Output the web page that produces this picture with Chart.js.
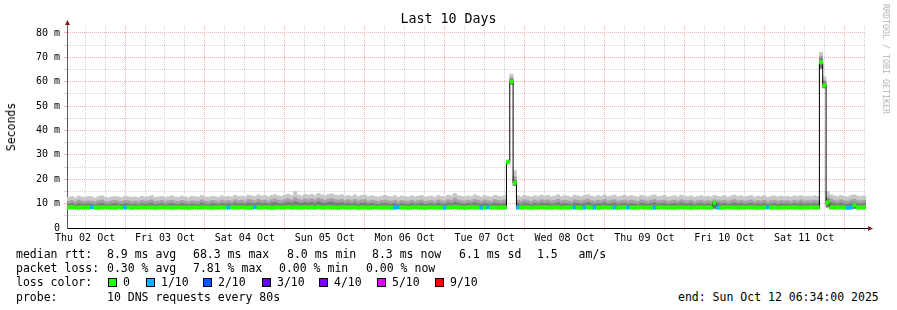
<!DOCTYPE html>
<html>
<head>
<meta charset="utf-8">
<title>Last 10 Days</title>
<script src="https://cdn.jsdelivr.net/npm/chart.js@4.4.1/dist/chart.umd.min.js"></script>
<style>
  html, body { margin: 0; padding: 0; background: #fff; }
  #wrap { position: relative; width: 897px; height: 310px; overflow: hidden;
          font-family: 'DejaVu Sans Mono', monospace; color: #000; }
  #chart { position: absolute; left: 0; top: 0; }
  #title { position: absolute; left: 0; top: 11px; width: 897px; text-align: center;
           font-size: 13.3px; line-height: 16px; }
  #ylabel { position: absolute; left: 11px; top: 127px; font-size: 11.5px; white-space: pre;
            transform: translate(-50%, -50%) rotate(-90deg); }
  #credit { position: absolute; left: 886px; top: 59px; font-size: 8.3px; color: #b4b4b4;
            white-space: pre; transform: translate(-50%, -50%) rotate(90deg); }
  .t { position: absolute; white-space: pre; font-size: 11.5px; line-height: 14px; }
  .box { position: absolute; width: 7px; height: 7px; border: 1px solid #000; }
</style>
</head>
<body>
<div id="wrap">
  <canvas id="chart" width="897" height="250"></canvas>
  <div id="title">Last 10 Days</div>
  <div id="ylabel">Seconds</div>
  <div id="credit">RRDTOOL / TOBI OETIKER</div>
  <div id="legend"></div>
</div>
<script>
// time axis: hours counted from Thu 02 Oct 00:00, window ends Sun 12 Oct 06:34
const T0 = 6 + 34 / 60;
const T1 = T0 + 240;

const dayLabels = ['Thu 02 Oct', 'Fri 03 Oct', 'Sat 04 Oct', 'Sun 05 Oct', 'Mon 06 Oct',
                   'Tue 07 Oct', 'Wed 08 Oct', 'Thu 09 Oct', 'Fri 10 Oct', 'Sat 11 Oct'];
const xTickHours = [12, 18, 24, 30, 36, 42, 48, 54, 60, 66, 72, 78, 84, 90, 96, 102, 108, 114,
                    120, 126, 132, 138, 144, 150, 156, 162, 168, 174, 180, 186, 192, 198, 204,
                    210, 216, 222, 228, 234, 240, 246];
const yTickValues = [0, 5, 10, 15, 20, 25, 30, 35, 40, 45, 50, 55, 60, 65, 70, 75, 80];

// hourly values in ms, one row per 24 bins
const median = [
  8.4,8.5,8.4,8.3,8.5,8.4,8.4,8.6,8.4,8.3,8.4,8.5,8.4,8.4,8.3,8.5,8.4,8.4,8.5,8.3,8.4,8.4,8.5,8.4,
  8.5,8.4,8.3,8.4,8.5,8.4,8.4,8.3,8.4,8.5,8.4,8.4,8.3,8.4,8.5,8.4,8.4,8.5,8.4,8.3,8.4,8.4,8.5,8.4,
  8.4,8.5,8.4,8.4,8.5,8.4,8.3,8.4,8.5,8.4,8.4,8.5,8.4,8.3,8.4,8.5,8.4,8.4,8.6,8.4,8.5,8.4,8.4,8.5,
  8.4,8.5,8.4,8.6,8.4,8.4,8.5,8.4,8.4,8.3,8.5,8.4,8.4,8.4,8.5,8.3,8.4,8.4,8.3,8.4,8.5,8.4,8.4,8.4,
  8.4,8.3,8.4,8.5,8.4,8.4,8.3,8.4,8.5,8.4,8.4,8.3,8.4,8.5,8.4,8.4,8.4,8.3,8.4,8.5,8.6,8.4,8.4,8.3,
  8.4,8.5,8.4,8.4,8.3,8.4,8.5,8.4,8.4,8.3,8.4,8.4,27.0,60.0,18.5,8.4,8.4,8.5,8.4,8.3,8.4,8.4,8.5,8.4,
  8.4,8.4,8.5,8.4,8.3,8.4,8.4,8.5,8.4,8.4,8.3,8.4,8.5,8.4,8.4,8.3,8.4,8.5,8.4,8.4,8.4,8.3,8.4,8.5,
  8.4,8.4,8.3,8.4,8.5,8.4,8.4,8.4,8.3,8.4,8.5,8.4,8.4,8.4,8.3,8.4,8.5,8.4,8.4,8.3,8.4,8.4,8.5,8.4,
  8.4,8.4,10.3,8.4,8.3,8.4,8.5,8.4,8.4,8.3,8.4,8.4,8.5,8.4,8.4,8.3,8.4,8.4,8.5,8.4,8.4,8.3,8.4,8.4,
  8.4,8.5,8.4,8.4,8.3,8.4,8.4,8.5,8.4,8.4,68.0,58.5,10.5,8.4,8.4,8.5,8.4,8.4,8.3,8.4,9.4,8.4,8.4,8.4
];
const smokeLo = [
  8.0,8.0,8.0,8.0,8.0,8.0,8.0,8.0,8.0,8.0,8.0,8.0,8.0,8.0,8.0,8.0,8.0,8.0,8.0,8.0,8.0,8.0,8.0,8.0,
  8.0,8.0,8.0,8.0,8.0,8.0,8.0,8.0,8.0,8.0,8.0,8.0,8.0,8.0,8.0,8.0,8.0,8.0,8.0,8.0,8.0,8.0,8.0,8.0,
  8.0,8.0,8.0,8.0,8.0,8.0,8.0,8.0,8.0,8.0,8.0,8.0,8.0,8.0,8.0,8.0,8.0,8.0,8.0,8.0,8.0,8.0,8.0,8.0,
  8.0,8.0,8.0,8.0,8.0,8.0,8.0,8.0,8.0,8.0,8.0,8.0,8.0,8.0,8.0,8.0,8.0,8.0,8.0,8.0,8.0,8.0,8.0,8.0,
  8.0,8.0,8.0,8.0,8.0,8.0,8.0,8.0,8.0,8.0,8.0,8.0,8.0,8.0,8.0,8.0,8.0,8.0,8.0,8.0,8.0,8.0,8.0,8.0,
  8.0,8.0,8.0,8.0,8.0,8.0,8.0,8.0,8.0,8.0,8.0,8.0,26.5,59.0,17.5,8.0,8.0,8.0,8.0,8.0,8.0,8.0,8.0,8.0,
  8.0,8.0,8.0,8.0,8.0,8.0,8.0,8.0,8.0,8.0,8.0,8.0,8.0,8.0,8.0,8.0,8.0,8.0,8.0,8.0,8.0,8.0,8.0,8.0,
  8.0,8.0,8.0,8.0,8.0,8.0,8.0,8.0,8.0,8.0,8.0,8.0,8.0,8.0,8.0,8.0,8.0,8.0,8.0,8.0,8.0,8.0,8.0,8.0,
  8.0,8.0,8.0,8.0,8.0,8.0,8.0,8.0,8.0,8.0,8.0,8.0,8.0,8.0,8.0,8.0,8.0,8.0,8.0,8.0,8.0,8.0,8.0,8.0,
  8.0,8.0,8.0,8.0,8.0,8.0,8.0,8.0,8.0,8.0,65.5,57.5,8.6,8.0,8.0,8.0,8.0,8.0,8.0,8.0,8.0,8.0,8.0,8.0
];
const smokeDark = [
  9.8,10.0,9.6,10.1,9.9,9.7,10.0,9.8,9.5,10.0,10.2,9.7,9.6,9.9,10.1,9.8,9.7,10.0,9.9,9.6,9.9,9.5,10.0,9.8,
  9.9,10.2,9.7,9.8,10.0,9.6,9.9,10.1,9.8,9.7,10.0,9.9,9.5,9.9,9.8,9.7,10.2,9.8,9.6,10.0,9.9,9.6,10.1,9.8,
  10.0,9.8,10.3,9.9,10.1,9.8,10.3,10.1,9.9,10.4,10.0,10.2,9.8,10.3,10.5,10.1,9.9,10.3,10.6,10.2,10.8,10.4,10.1,10.5,
  10.3,10.6,10.2,10.8,10.4,10.1,10.5,10.7,10.3,10.2,10.4,10.0,10.3,9.9,10.3,9.8,10.2,10.3,9.8,10.1,9.9,9.7,10.0,10.2,
  9.9,9.8,10.1,9.6,10.0,9.9,9.7,10.1,9.8,9.9,10.2,9.7,9.9,10.0,9.6,10.2,9.9,9.8,10.3,10.0,10.6,10.3,9.9,9.8,
  10.1,9.9,10.4,10.0,9.8,10.2,9.9,9.7,10.3,10.0,9.8,10.2,27.3,61.0,19.6,10.1,9.8,10.3,9.9,9.7,10.2,9.8,10.3,10.0,
  10.2,9.8,10.0,10.4,9.9,10.1,9.9,9.7,10.3,10.1,9.8,10.2,10.5,10.0,9.8,10.1,9.9,10.4,9.8,10.0,10.3,9.8,10.0,10.2,
  9.9,10.1,9.9,9.7,10.2,10.0,9.8,10.1,10.4,9.9,10.0,10.2,9.7,9.9,10.1,9.8,10.3,10.0,9.9,10.1,9.6,9.9,10.1,9.8,
  10.0,9.8,10.9,10.2,9.9,10.1,9.7,10.0,10.3,9.9,10.1,9.8,9.9,10.2,9.7,10.0,9.9,10.1,9.6,9.9,10.1,9.8,10.0,9.9,
  9.9,9.7,10.1,9.8,10.2,9.8,10.0,9.9,10.1,9.9,69.5,59.8,11.8,10.5,10.1,9.9,10.3,9.9,9.8,10.2,10.4,10.0,9.9,10.1
];
const smokeMid = [
  11.0,11.3,10.8,11.4,11.1,10.9,11.2,11.0,10.7,11.3,11.5,10.9,10.8,11.2,11.4,11.0,10.9,11.3,11.2,10.8,11.1,10.7,11.3,11.0,
  11.2,11.5,10.9,11.1,11.3,10.8,11.2,11.4,11.0,10.9,11.3,11.1,10.7,11.2,11.1,10.9,11.5,11.0,10.8,11.3,11.2,10.8,11.4,11.1,
  11.3,11.0,11.6,11.2,11.4,11.0,11.7,11.4,11.1,11.8,11.3,11.5,11.0,11.6,11.9,11.4,11.2,11.7,12.0,11.5,12.4,11.8,11.4,11.9,
  11.6,12.0,11.5,12.2,11.8,11.4,11.9,12.1,11.7,11.5,11.8,11.3,11.6,11.2,11.7,11.1,11.5,11.6,11.0,11.4,11.2,10.9,11.3,11.5,
  11.2,11.0,11.4,10.8,11.3,11.1,10.9,11.4,11.0,11.2,11.5,10.9,11.1,11.3,10.8,11.5,11.2,11.0,11.6,11.3,12.2,11.6,11.2,11.1,
  11.4,11.1,11.7,11.3,11.0,11.5,11.2,10.9,11.6,11.3,11.1,11.5,27.6,61.8,21.0,11.4,11.0,11.6,11.2,10.9,11.5,11.1,11.6,11.3,
  11.5,11.0,11.3,11.7,11.1,11.4,11.2,10.9,11.6,11.4,11.1,11.5,11.8,11.3,11.0,11.4,11.2,11.7,11.1,11.3,11.6,11.0,11.3,11.5,
  11.1,11.4,11.2,10.9,11.5,11.3,11.0,11.4,11.7,11.1,11.3,11.5,10.9,11.2,11.4,11.0,11.6,11.3,11.1,11.4,10.8,11.2,11.4,11.0,
  11.3,11.0,11.6,11.2,11.1,11.4,10.9,11.3,11.6,11.1,11.4,11.0,11.2,11.5,10.9,11.3,11.1,11.4,10.8,11.2,11.4,11.0,11.3,11.1,
  11.2,10.9,11.4,11.1,11.5,11.0,11.3,11.1,11.4,11.2,70.5,60.5,12.8,11.8,11.4,11.1,11.6,11.2,11.0,11.5,11.8,11.3,11.1,11.4
];
const smokeLight = [
  12.6,12.9,12.4,13.1,12.7,12.5,13.0,12.8,12.3,12.9,13.2,12.6,12.4,12.8,13.0,12.7,12.5,13.1,12.9,12.6,12.8,12.4,13.0,12.7,
  12.9,13.3,12.6,12.8,13.0,12.5,12.9,13.2,12.7,12.6,13.1,12.8,12.4,13.0,12.9,12.7,13.3,12.8,12.6,13.0,12.9,12.5,13.2,12.8,
  13.0,12.7,13.4,12.9,13.1,12.8,13.5,13.2,12.9,13.6,13.1,13.3,12.8,13.4,13.7,13.2,13.0,13.5,13.9,13.3,15.0,13.6,13.2,13.8,
  13.4,13.9,13.3,14.2,13.6,13.2,13.8,14.0,13.5,13.3,13.7,13.1,13.4,13.0,13.6,12.9,13.3,13.5,12.8,13.2,13.0,12.7,13.1,13.4,
  13.0,12.8,13.3,12.6,13.1,12.9,12.7,13.2,12.8,13.0,13.4,12.7,12.9,13.1,12.6,13.3,13.0,12.8,13.5,13.2,14.2,13.4,13.0,12.9,
  13.2,12.9,13.6,13.1,12.8,13.3,13.0,12.7,13.4,13.1,12.9,13.3,28.0,63.2,23.5,13.2,12.8,13.4,13.0,12.7,13.3,12.9,13.5,13.1,
  13.4,12.8,13.1,13.6,12.9,13.3,13.0,12.7,13.5,13.2,12.9,13.4,13.7,13.1,12.8,13.3,13.0,13.6,12.9,13.2,13.5,12.8,13.1,13.4,
  12.9,13.3,13.0,12.7,13.4,13.1,12.8,13.2,13.6,12.9,13.1,13.4,12.7,13.0,13.3,12.8,13.5,13.1,12.9,13.2,12.6,13.0,13.3,12.8,
  13.1,12.8,13.4,13.0,12.9,13.3,12.7,13.1,13.5,12.9,13.2,12.8,13.0,13.4,12.7,13.1,12.9,13.3,12.6,13.0,13.2,12.8,13.1,12.9,
  13.0,12.7,13.2,12.9,13.3,12.8,13.1,12.9,13.2,13.0,72.0,62.0,15.0,13.6,13.2,12.9,13.4,13.0,12.8,13.3,13.6,13.1,12.9,13.2
];
// lost pings out of 10, per bin
const loss = [
  0,0,0,0,0,0,0,1,0,0,0,0,0,0,0,0,0,1,0,0,0,0,0,0,
  0,0,0,0,0,0,0,0,0,0,0,0,0,0,0,0,0,0,0,0,0,0,0,0,
  1,0,0,0,0,0,0,0,1,0,0,0,0,0,0,0,0,0,0,0,0,0,0,0,
  0,0,0,0,0,0,0,0,0,0,0,0,0,0,0,0,0,0,0,0,0,0,0,0,
  0,0,1,1,0,0,0,0,0,0,0,0,0,0,0,0,0,1,0,0,0,0,0,0,
  0,0,0,0,1,0,1,0,0,0,0,0,0,0,0,1,0,0,0,0,0,0,0,0,
  0,0,0,0,0,0,0,0,1,0,0,1,0,0,1,0,0,0,0,0,1,0,0,0,
  1,0,0,0,0,0,0,0,1,0,0,0,0,0,0,0,0,0,0,0,0,0,0,0,
  0,0,0,1,0,0,0,0,0,0,0,0,0,0,0,0,0,0,1,0,0,0,0,0,
  0,0,0,0,0,0,0,0,0,0,0,0,0,0,0,0,0,0,1,1,0,0,0,0
];
const lossLabels = ['0', '1/10', '2/10', '3/10', '4/10', '5/10', '9/10'];
const lossColors = ['#26ff00', '#00b8ff', '#0059ff', '#5e00ff', '#7e00ff', '#dd00ff', '#ff0000'];

const redGrid = '#f5b0b0';
const greyGrid = '#d4d4d4';
const monoFont = { family: 'DejaVu Sans Mono', size: 10 };

function binHour(i) {
    return T0 + i + 0.5;
}

function smokeSet(label, top, color, order) {
    return {
        type: 'bar',
        label: label,
        data: top.map((v, i) => ({ x: binHour(i), y: [smokeLo[i], v] })),
        backgroundColor: color,
        borderWidth: 0,
        grouped: false,
        barPercentage: 1,
        categoryPercentage: 1,
        order: order
    };
}

// axis arrows like rrdtool draws them
const axisArrows = {
    id: 'axisArrows',
    afterDraw(chart) {
        const { ctx, chartArea: a } = chart;
        ctx.save();
        ctx.lineWidth = 1;
        ctx.strokeStyle = '#5a5a5a';
        ctx.beginPath();
        ctx.moveTo(a.left + 0.5, a.top);
        ctx.lineTo(a.left + 0.5, a.top - 2);
        ctx.stroke();
        ctx.strokeStyle = '#000';
        ctx.beginPath();
        ctx.moveTo(a.right, a.bottom + 0.5);
        ctx.lineTo(a.right + 3, a.bottom + 0.5);
        ctx.stroke();
        ctx.fillStyle = '#7f1f1f';
        ctx.beginPath();
        ctx.moveTo(a.left + 0.5, a.top - 6);
        ctx.lineTo(a.left - 2, a.top - 1);
        ctx.lineTo(a.left + 3, a.top - 1);
        ctx.closePath();
        ctx.fill();
        ctx.beginPath();
        ctx.moveTo(a.right + 7, a.bottom + 0.5);
        ctx.lineTo(a.right + 2, a.bottom - 2);
        ctx.lineTo(a.right + 2, a.bottom + 3);
        ctx.closePath();
        ctx.fill();
        ctx.restore();
    }
};

function buildChart() {
    new Chart(document.getElementById('chart').getContext('2d'), {
        type: 'bar',
        data: {
            datasets: [
                {
                    type: 'bar',
                    label: 'loss',
                    data: median.map((v, i) => ({ x: binHour(i), y: [v - 0.7, v + 0.7] })),
                    backgroundColor: loss.map(n => lossColors[Math.min(n, 6)]),
                    borderWidth: 0,
                    grouped: false,
                    barPercentage: 1,
                    categoryPercentage: 1,
                    order: 0
                },
                {
                    type: 'line',
                    label: 'median rtt',
                    data: median.map((v, i) => ({ x: binHour(i), y: v })),
                    borderColor: '#000',
                    borderWidth: 1,
                    pointRadius: 0,
                    stepped: 'middle',
                    fill: false,
                    order: 1
                },
                smokeSet('smoke 3', smokeDark, '#7c7c7c', 2),
                smokeSet('smoke 2', smokeMid, '#a2a2a2', 3),
                smokeSet('smoke 1', smokeLight, '#c8c8c8', 4)
            ]
        },
        options: {
            responsive: false,
            devicePixelRatio: 1,
            animation: false,
            events: [],
            layout: { padding: { left: 0, top: 26, right: 31, bottom: 0 } },
            plugins: {
                legend: { display: false },
                tooltip: { enabled: false },
                title: { display: false }
            },
            scales: {
                x: {
                    type: 'linear',
                    min: T0,
                    max: T1,
                    bounds: 'data',
                    offset: false,
                    afterBuildTicks: axis => { axis.ticks = xTickHours.map(v => ({ value: v })); },
                    afterFit: axis => { axis.height = 22; },
                    grid: {
                        offset: false,
                        color: c => (c.tick && c.tick.value % 24 === 0) ? redGrid : greyGrid,
                        tickLength: 3
                    },
                    border: { display: true, color: '#000', width: 1, dash: [1, 1] },
                    ticks: {
                        autoSkip: false,
                        maxRotation: 0,
                        minRotation: 0,
                        padding: 1,
                        color: '#000',
                        font: monoFont,
                        callback: v => (v % 24 === 12) ? dayLabels[(v - 12) / 24] : ''
                    }
                },
                y: {
                    type: 'linear',
                    min: 0,
                    max: 82.87,
                    bounds: 'data',
                    afterBuildTicks: axis => { axis.ticks = yTickValues.map(v => ({ value: v })); },
                    afterFit: axis => { axis.width = 67; },
                    grid: {
                        color: c => {
                            if (!c.tick || c.tick.value === 0) return 'rgba(0,0,0,0)';
                            return c.tick.value % 10 === 0 ? redGrid : greyGrid;
                        },
                        tickLength: 3
                    },
                    border: { display: true, color: '#5a5a5a', width: 1, dash: [1, 1] },
                    ticks: {
                        autoSkip: false,
                        padding: 4,
                        color: '#000',
                        font: monoFont,
                        callback: v => v === 0 ? '0' : (v % 10 === 0 ? v + ' m' : '')
                    }
                }
            }
        },
        plugins: [axisArrows]
    });
}

// text legend under the graph
function buildLegend() {
    const lines = [
        { top: 247, items: [[16, 'median rtt:'], [107, '8.9 ms avg'], [193, '68.3 ms max'],
                            [287, '8.0 ms min'], [372, '8.3 ms now'], [459, '6.1 ms sd'],
                            [537, '1.5   am/s']] },
        { top: 261, items: [[16, 'packet loss:'], [107, '0.30 % avg'], [193, '7.81 % max'],
                            [279, '0.00 % min'], [366, '0.00 % now']] },
        { top: 275, items: [[16, 'loss color:']] },
        { top: 290, items: [[16, 'probe:'], [107, '10 DNS requests every 80s'],
                            [678, 'end: Sun Oct 12 06:34:00 2025']] }
    ];
    const boxX = [108, 146, 203, 262, 319, 377, 435];
    const holder = document.getElementById('legend');
    let html = '';
    lines.forEach(line => {
        line.items.forEach(([x, text]) => {
            html += `<div class="t" style="left:${x}px;top:${line.top}px">${text}</div>`;
        });
    });
    lossLabels.forEach((label, i) => {
        html += `<div class="box" style="left:${boxX[i]}px;top:278px;background:${lossColors[i]}"></div>`;
        html += `<div class="t" style="left:${boxX[i] + 15}px;top:275px">${label}</div>`;
    });
    holder.innerHTML = html;
}

document.addEventListener('DOMContentLoaded', function() {
    buildLegend();
    buildChart();
});
</script>
</body>
</html>
